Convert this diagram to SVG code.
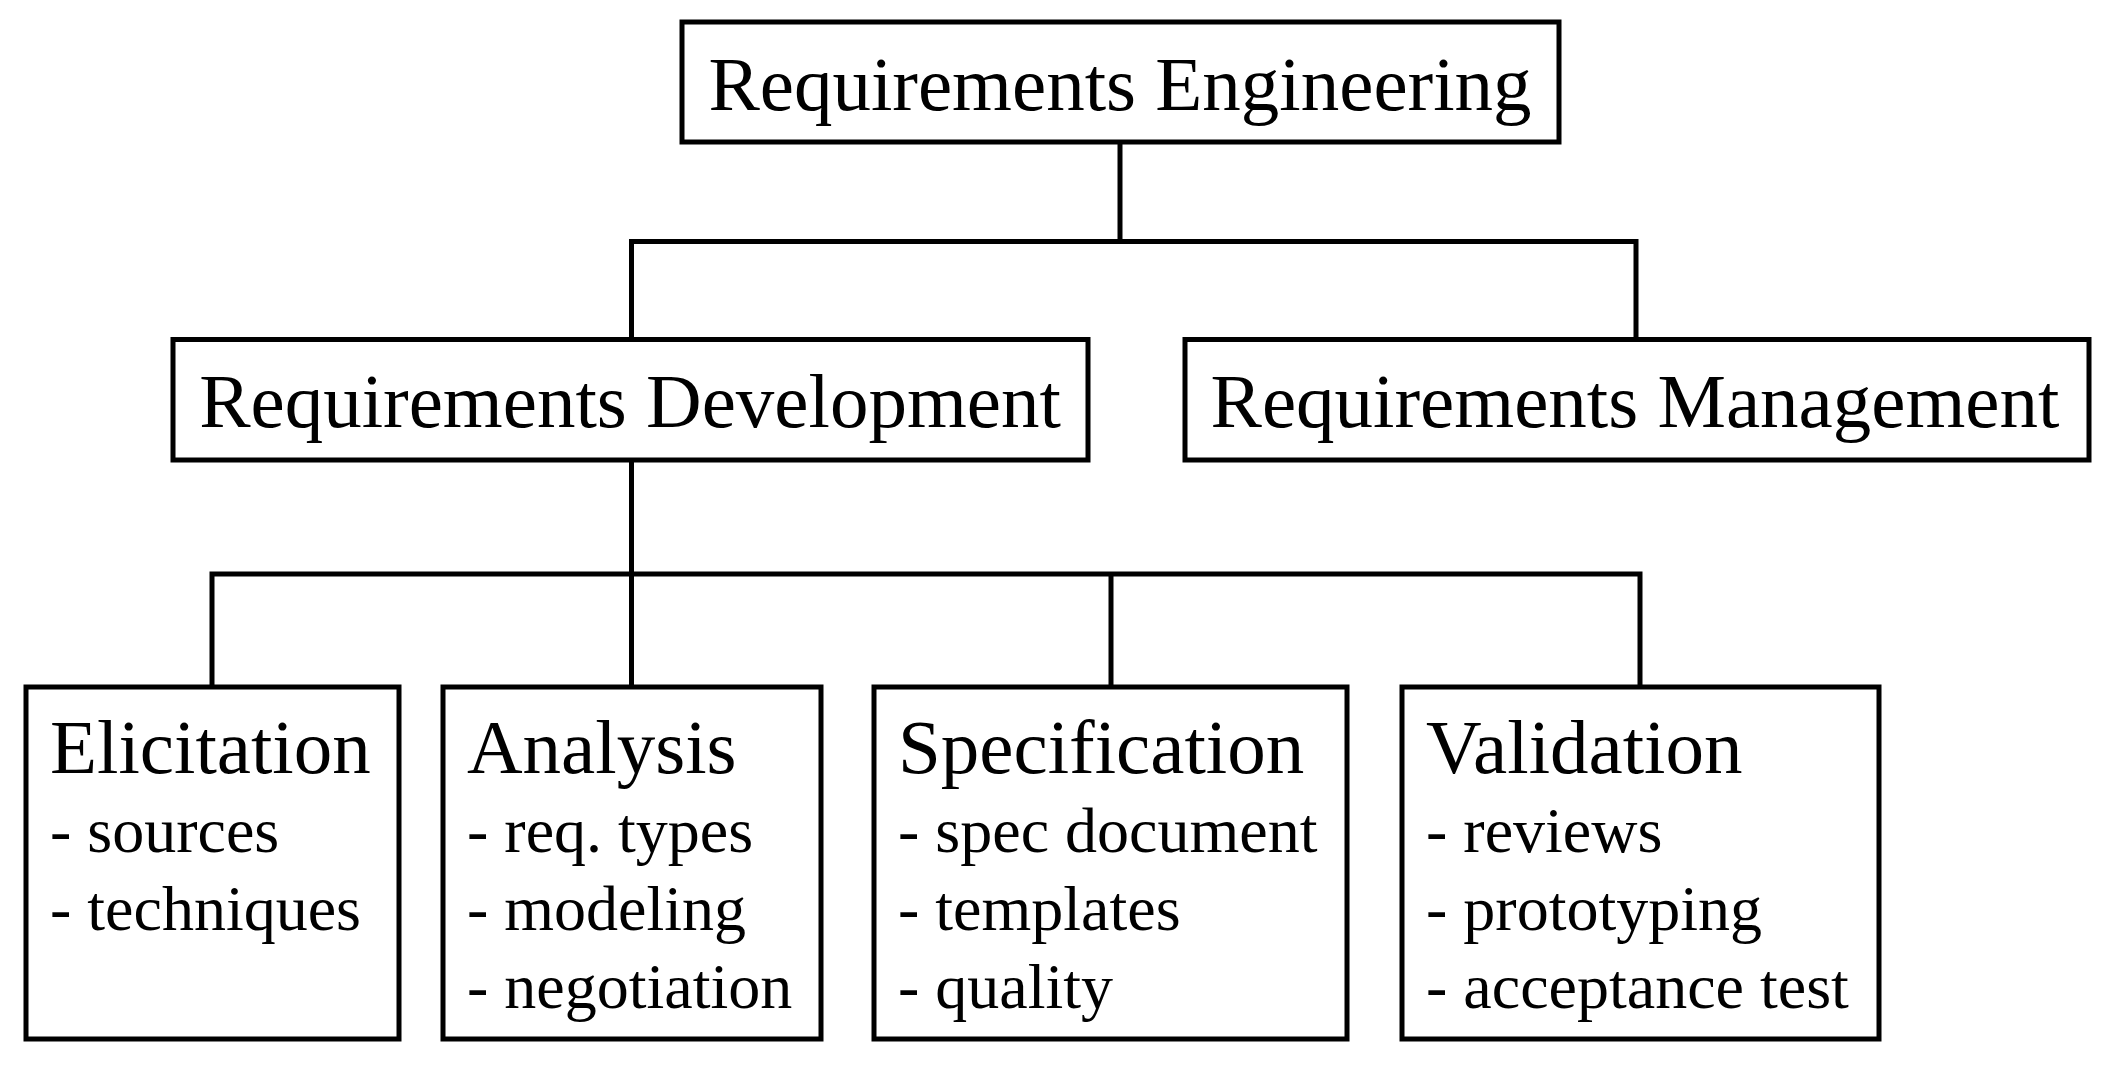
<svg xmlns="http://www.w3.org/2000/svg" width="2104" height="1068" viewBox="0 0 2104 1068">
<style>
.box{fill:#fff;stroke:#000;stroke-width:5}
.conn{fill:none;stroke:#000;stroke-width:5;stroke-linejoin:miter}
text{font-family:"Liberation Serif","Times New Roman",serif;fill:#000}
.t{font-size:77px}
.c{text-anchor:middle}
.i{font-size:64px}
</style>
<rect width="2104" height="1068" fill="#fff"/>
<g id="connectors">
<path class="conn" d="M1120,142 V241.5"/>
<path class="conn" d="M631.5,340 V241.5 H1636 V340"/>
<path class="conn" d="M631.5,460 V687"/>
<path class="conn" d="M212,687 V574 H1640 V687"/>
<path class="conn" d="M1111,574 V687"/>
</g>
<g id="n-re">
<rect class="box" x="682" y="22" width="877" height="120"/>
<text class="t c" x="1120" y="110">Requirements Engineering</text>
</g>
<g id="n-rd">
<rect class="box" x="173" y="339.5" width="915" height="120.5"/>
<text class="t c" x="630" y="427">Requirements Development</text>
</g>
<g id="n-rm">
<rect class="box" x="1185" y="339.5" width="904" height="120.5"/>
<text class="t c" x="1635" y="427">Requirements Management</text>
</g>
<g id="n-elic">
<rect class="box" x="26" y="687" width="373" height="352"/>
<text class="t" x="50" y="773">Elicitation</text>
<text class="i" x="50" y="852">- sources</text>
<text class="i" x="50" y="930">- techniques</text>
</g>
<g id="n-anal">
<rect class="box" x="443" y="687" width="378" height="352"/>
<text class="t" x="467" y="773">Analysis</text>
<text class="i" x="467" y="852">- req. types</text>
<text class="i" x="467" y="930">- modeling</text>
<text class="i" x="467" y="1008">- negotiation</text>
</g>
<g id="n-spec">
<rect class="box" x="874" y="687" width="473" height="352"/>
<text class="t" x="898" y="773">Specification</text>
<text class="i" x="898" y="852">- spec document</text>
<text class="i" x="898" y="930">- templates</text>
<text class="i" x="898" y="1008">- quality</text>
</g>
<g id="n-val">
<rect class="box" x="1402" y="687" width="477" height="352"/>
<text class="t" x="1426" y="773">Validation</text>
<text class="i" x="1426" y="852">- reviews</text>
<text class="i" x="1426" y="930">- prototyping</text>
<text class="i" x="1426" y="1008">- acceptance test</text>
</g>
</svg>
